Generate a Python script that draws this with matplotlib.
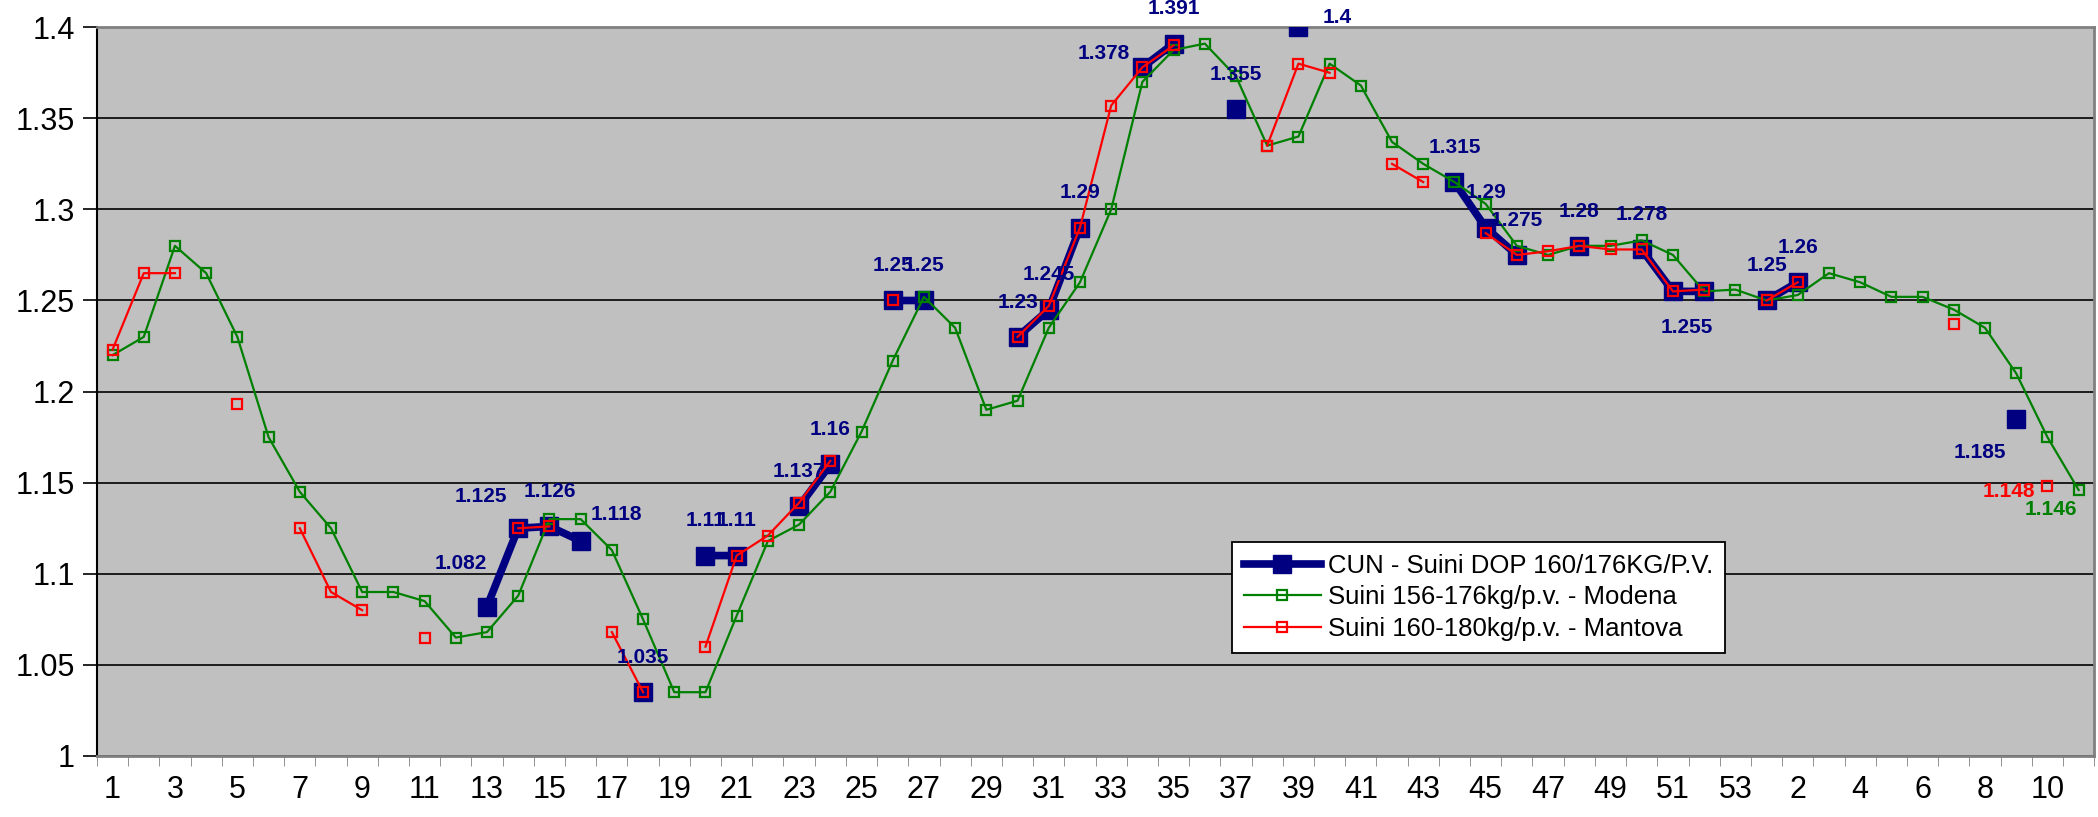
import numpy as np
import matplotlib.pyplot as plt

plt.rcParams['font.family'] = ['Liberation Sans', 'DejaVu Sans']

nan = np.nan

# week numbers on the category axis (two years)
weeks = list(range(1, 54)) + list(range(1, 12))

# CUN - Suini DOP 160/176KG/P.V.
cun = [nan, nan, nan, nan, nan, nan, nan, nan, nan, nan,
       nan, nan, 1.082, 1.125, 1.126, 1.118, nan, 1.035, nan, 1.11,
       1.11, nan, 1.137, 1.16, nan, 1.25, 1.25, nan, nan, 1.23,
       1.245, 1.29, nan, 1.378, 1.391, nan, 1.355, nan, 1.4, nan,
       nan, nan, nan, 1.315, 1.29, 1.275, nan, 1.28, nan, 1.278,
       1.255, 1.255, nan, 1.25, 1.26, nan, nan, nan, nan, nan,
       nan, 1.185, nan, nan]

# Suini 156-176kg/p.v. - Modena
modena = [1.22, 1.23, 1.28, 1.265, 1.23, 1.175, 1.145, 1.125, 1.09, 1.09,
          1.085, 1.065, 1.068, 1.088, 1.13, 1.13, 1.113, 1.075, 1.035, 1.035,
          1.077, 1.118, 1.127, 1.145, 1.178, 1.217, 1.252, 1.235, 1.19, 1.195,
          1.235, 1.26, 1.30, 1.37, 1.3875, 1.391, 1.373, 1.335, 1.34, 1.38,
          1.368, 1.337, 1.325, 1.315, 1.303, 1.28, 1.275, 1.28, 1.28, 1.283,
          1.275, 1.255, 1.256, 1.25, 1.253, 1.265, 1.26, 1.252, 1.252, 1.245,
          1.235, 1.21, 1.175, 1.146]

# Suini 160-180kg/p.v. - Mantova
mantova = [1.223, 1.265, 1.265, nan, 1.193, nan, 1.125, 1.09, 1.08, nan,
           1.065, nan, nan, 1.125, 1.126, nan, 1.068, 1.035, nan, 1.06,
           1.11, 1.121, 1.139, 1.162, nan, 1.25, nan, nan, nan, 1.23,
           1.247, 1.29, 1.357, 1.378, 1.39, nan, nan, 1.335, 1.38, 1.375,
           nan, 1.325, 1.315, nan, 1.287, 1.275, 1.277, 1.28, 1.278, 1.278,
           1.255, 1.256, nan, 1.25, 1.26, nan, nan, nan, nan, 1.237,
           nan, nan, 1.148, nan]

names = ['CUN - Suini DOP 160/176KG/P.V.',
         'Suini 156-176kg/p.v. - Modena',
         'Suini 160-180kg/p.v. - Mantova']

# label offsets (points) for the CUN data labels
lab_off = {12: (-19, 31), 13: (-27, 23), 15: (26, 19), 33: (-28, 10),
           38: (28, 7), 50: (10, -26), 51: None, 61: (-26, -24)}

x = np.arange(len(weeks))

fig = plt.figure(figsize=(20.98, 8.17), dpi=100)
ax = fig.add_axes([0.0462, 0.0747, 0.952, 0.892])
ax.set_facecolor('#C0C0C0')

navy = '#000080'
green = '#008000'
red = '#FF0000'

l1, = ax.plot(x, cun, color=navy, lw=5.5, marker='s', ms=12.5,
              mfc=navy, mec=navy, zorder=3, solid_joinstyle='miter')
l2, = ax.plot(x, modena, color=green, lw=1.6, marker='s', ms=6.5,
              mfc='none', mec=green, mew=1.6, zorder=4)
l3, = ax.plot(x, mantova, color=red, lw=1.6, marker='s', ms=6.5,
              mfc='none', mec=red, mew=1.6, zorder=5)

for i, v in enumerate(cun):
    if np.isnan(v):
        continue
    off = lab_off.get(i, (0, 25))
    if off is None:
        continue
    ax.annotate(f'{v:g}', (i, v), xytext=off, textcoords='offset points',
                ha='center', va='center', fontsize=15, fontweight='bold',
                color=navy, zorder=6, annotation_clip=False)

# end labels of the other two series
ax.annotate(f'{mantova[62]:g}', (62, mantova[62]), xytext=(-28, -4),
            textcoords='offset points', ha='center', va='center',
            fontsize=15, fontweight='bold', color=red, zorder=6)
ax.annotate(f'{modena[63]:g}', (63, modena[63]), xytext=(-20, -14),
            textcoords='offset points', ha='center', va='center',
            fontsize=15, fontweight='bold', color=green, zorder=6)

ax.set_xlim(-0.5, len(weeks) - 0.5)
ax.set_ylim(1, 1.4)
ax.set_yticks(np.arange(1, 1.401, 0.05))
ax.set_yticklabels([f'{t:g}' for t in np.arange(1, 1.401, 0.05)])
ax.yaxis.grid(True, color='black', lw=1.2)
ax.set_axisbelow(True)

ax.set_xticks(x[::2])
ax.set_xticklabels([str(w) for w in weeks[::2]])
ax.set_xticks(np.arange(-0.5, len(weeks), 1), minor=True)
ax.tick_params(axis='x', which='major', length=0, labelsize=22, pad=14)
ax.tick_params(axis='x', which='minor', length=7, color='#808080')
ax.tick_params(axis='y', length=10, width=1.2, labelsize=22, pad=6)

ax.spines['left'].set_color('black')
ax.spines['left'].set_linewidth(1.5)
for s in ['top', 'right', 'bottom']:
    ax.spines[s].set_color('#808080')
    ax.spines[s].set_linewidth(2)

leg = fig.legend([l1, l2, l3], names, loc='upper left',
                 bbox_to_anchor=(1232 / 2098, 1 - 542 / 817),
                 borderaxespad=0, fontsize=18.5, frameon=True, fancybox=False,
                 edgecolor='black', framealpha=1, handlelength=3.0,
                 handletextpad=0.3, labelspacing=0.3, borderpad=0.45)
leg.get_frame().set_linewidth(1.3)

plt.savefig('out.png', dpi=100)
